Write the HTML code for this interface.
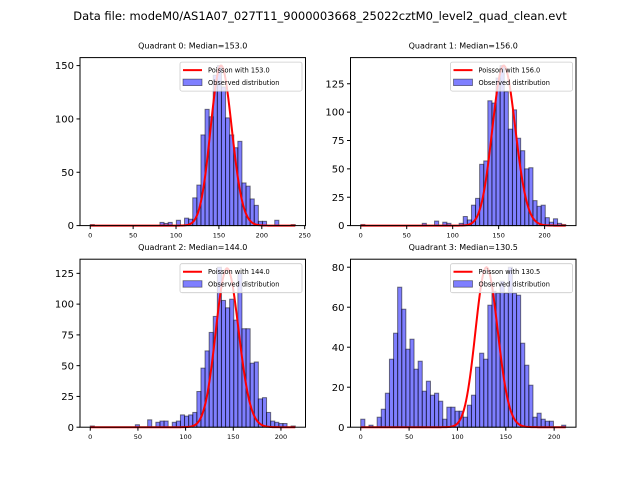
<!DOCTYPE html>
<html><head><meta charset="utf-8"><style>
body{margin:0;background:#fff;}
svg{display:block;font-family:"DejaVu Sans","Liberation Sans",sans-serif;}
</style></head><body>
<svg id="fig" width="640" height="480" viewBox="0 0 640 480">
<rect width="640" height="480" fill="#fff"/>
<text x="320" y="20" font-size="11.5" text-anchor="middle">Data file: modeM0/AS1A07_027T11_9000003668_25022cztM0_level2_quad_clean.evt</text>
</svg>
<script>
const medians = [153.0, 156.0, 144.0, 130.5];
const curvePeaks = [150, 141, 129, 80];
const dataMax = [239, 223, 215, 212];
const yTicks0 = [0, 50, 100, 150];
const yTicks1 = [0, 25, 50, 75, 100, 125];
const yTicks2 = [0, 25, 50, 75, 100, 125];
const yTicks3 = [0, 20, 40, 60, 80];
const xTicks0 = [0, 50, 100, 150, 200, 250];
const xTicks1 = [0, 50, 100, 150, 200];
const xTicks2 = [0, 50, 100, 150, 200];
const xTicks3 = [0, 50, 100, 150, 200];
const counts0 = [1,0,0,0,0,0,0,0,0,0,0,0,0,0,0,0,0,3,2,3,0,5,0,7,6,26,38,85,109,102,141,150,130,101,85,73,79,40,37,25,19,4,4,0,0,5,0,0,0,1];
const counts1 = [1,0,0,0,0,0,0,0,0,0,0,0,0,0,0,2,0,0,4,0,3,2,0,0,2,8,5,18,24,54,57,110,108,130,141,118,85,102,77,66,50,51,22,17,18,7,3,6,2,1];
const counts2 = [1,0,0,0,0,0,0,0,0,0,0,2,0,0,6,0,4,5,5,0,4,5,10,9,10,12,29,48,62,77,90,130,103,97,104,87,125,80,80,52,53,23,24,12,5,4,3,3,0,1];
const counts3 = [4,0,1,0,5,9,17,34,47,70,59,39,44,29,33,18,23,16,17,13,4,10,10,8,8,5,11,16,30,37,34,61,68,67,73,67,80,67,66,42,31,21,5,7,4,3,3,0,0,1];
const titles = ["Quadrant 0: Median=153.0","Quadrant 1: Median=156.0","Quadrant 2: Median=144.0","Quadrant 3: Median=130.5"];
const allCounts=[counts0,counts1,counts2,counts3];
const allY=[yTicks0,yTicks1,yTicks2,yTicks3];
const allX=[xTicks0,xTicks1,xTicks2,xTicks3];
const NS="http://www.w3.org/2000/svg";
const svg=document.getElementById('fig');
function mk(tag,attrs,parent){const e=document.createElementNS(NS,tag);for(const k in attrs)e.setAttribute(k,attrs[k]);(parent||svg).appendChild(e);return e;}
function logFact(n){let s=0;for(let i=2;i<=n;i++)s+=Math.log(i);return s;}
function pmf(k,mu){return Math.exp(k*Math.log(mu)-mu-logFact(k));}
const boxes=[[80,57.6],[350.5,57.6],[80,259.2],[350.5,259.2]];
const W=225.5,H=168;
for(let p=0;p<4;p++){
  const [L,T]=boxes[p];const c=allCounts[p];const mu=medians[p];const xmax=dataMax[p];
  const g=mk('g',{});
  
  
  const xm=0.05*xmax;const x0=-xm,x1=xmax+xm;
  const curve=[];const mode=Math.floor(mu);const pm=pmf(mode,mu);
  for(let k=0;k<=xmax;k++)curve.push(curvePeaks[p]*pmf(k,mu)/pm);
  const ymax=Math.max(Math.max(...c),Math.max(...curve))*1.05;
  const X=v=>L+(v-x0)/(x1-x0)*W;
  const Y=v=>T+H-v/ymax*H;
  const bw=xmax/c.length;
  for(let i=0;i<c.length;i++){if(c[i]<=0)continue;
    const r=mk('rect',{x:X(i*bw),y:Y(c[i]),width:X((i+1)*bw)-X(i*bw),height:Y(0)-Y(c[i]),fill:'rgba(0,0,255,0.5)',stroke:'rgba(0,0,0,0.5)','stroke-width':1},g);
    
    }
  let d='';curve.forEach((v,k)=>{d+=(k?'L':'M')+X(k).toFixed(2)+','+Y(v).toFixed(2);});
  const ln=mk('path',{d:d,fill:'none',stroke:'red','stroke-width':2},g);
  
  
  const fr=mk('rect',{x:L,y:T,width:W,height:H,fill:'none',stroke:'#000','stroke-width':1},g);
  
  
  allX[p].forEach(t=>{const x=X(t);mk('line',{x1:x,x2:x,y1:T+H,y2:T+H+3.5,stroke:'#000'},g);
    const tx=mk('text',{x:x,y:T+H+12,'font-size':6.5,'text-anchor':'middle'},g);tx.textContent=t;
    
    });
  allY[p].forEach(t=>{const y=Y(t);mk('line',{x1:L-3.5,x2:L,y1:y,y2:y,stroke:'#000'},g);
    const ty=mk('text',{x:L-6,y:y+3.6,'font-size':10,'text-anchor':'end'},g);ty.textContent=t;
    
    });
  const ti=mk('text',{x:L+W/2,y:T-9,'font-size':8,'text-anchor':'middle'},g);ti.textContent=titles[p];
  
  
  const lg=mk('g',{},g);
  
  
  const lx=L+W-125.5,ly=T+4.5;
  mk('rect',{x:lx,y:ly,width:122,height:29,fill:'rgba(255,255,255,0.8)',stroke:'#ccc','stroke-width':0.8,rx:2},lg);
  mk('line',{x1:lx+3,x2:lx+22,y1:ly+8,y2:ly+8,stroke:'red','stroke-width':2},lg);
  const t1=mk('text',{x:lx+28,y:ly+10.5,'font-size':6.6},lg);t1.textContent='Poisson with '+mu.toFixed(1);
  
  
  mk('rect',{x:lx+3,y:ly+17,width:19,height:6.5,fill:'rgba(0,0,255,0.5)',stroke:'rgba(0,0,0,0.5)','stroke-width':0.8},lg);
  const t2=mk('text',{x:lx+28,y:ly+23,'font-size':6.6},lg);t2.textContent='Observed distribution';
  
  
}
</script>
</body></html>
